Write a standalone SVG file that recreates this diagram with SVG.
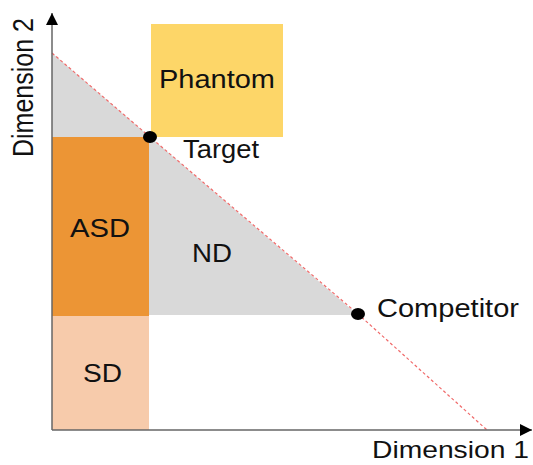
<svg xmlns="http://www.w3.org/2000/svg" width="533" height="465" viewBox="0 0 533 465">
<style>
.lbl{font-family:"Liberation Sans",Arial,sans-serif;font-size:25px;fill:#111;}
.axis{stroke:#666;stroke-width:1.5;fill:none;}
.dash{stroke:#f06a6a;stroke-width:1.2;stroke-dasharray:3 2.5;fill:none;}
</style>
<defs>
<marker id="arr" viewBox="0 0 12 12" refX="12" refY="6" markerWidth="12" markerHeight="12" markerUnits="userSpaceOnUse" orient="auto">
<path d="M0,0 L12,6 L0,12 z" fill="#000"/>
</marker>
</defs>
<rect width="533" height="465" fill="#fff"/>
<g id="nd">
<polygon points="52,53 358,315 52,315" fill="#d9d9d9"/>
<text class="lbl" x="192" y="262" textLength="40" lengthAdjust="spacingAndGlyphs">ND</text>
</g>
<g id="phantom">
<rect x="151" y="24" width="132" height="113" fill="#fdd668"/>
<text class="lbl" x="159" y="88" textLength="116" lengthAdjust="spacingAndGlyphs">Phantom</text>
</g>
<g id="asd">
<rect x="52" y="137" width="97" height="179" fill="#ec9535"/>
<text class="lbl" x="70" y="237" textLength="60" lengthAdjust="spacingAndGlyphs">ASD</text>
</g>
<g id="sd">
<rect x="52" y="316" width="97" height="114" fill="#f7cbab"/>
<text class="lbl" x="83" y="382" textLength="39" lengthAdjust="spacingAndGlyphs">SD</text>
</g>
<g id="connectors">
<polyline class="dash" points="52,53 150,137 358,314 487,430"/>
<line class="axis" x1="52" y1="430" x2="52" y2="13" marker-end="url(#arr)"/>
<line class="axis" x1="52" y1="430" x2="532" y2="430" marker-end="url(#arr)"/>
</g>
<g id="target">
<ellipse cx="150" cy="137" rx="7" ry="6" fill="#000"/>
<text class="lbl" x="183" y="158" textLength="76" lengthAdjust="spacingAndGlyphs">Target</text>
</g>
<g id="competitor">
<ellipse cx="358" cy="314" rx="7" ry="6" fill="#000"/>
<text class="lbl" x="377" y="317" textLength="142" lengthAdjust="spacingAndGlyphs">Competitor</text>
</g>
<g id="axis-labels">
<text class="lbl" x="372" y="458" style="font-size:24px" textLength="157" lengthAdjust="spacingAndGlyphs">Dimension 1</text>
<text class="lbl" transform="translate(33,157) rotate(-90) scale(1,1.16)" x="0" y="0" textLength="139" lengthAdjust="spacingAndGlyphs">Dimension 2</text>
</g>
</svg>
